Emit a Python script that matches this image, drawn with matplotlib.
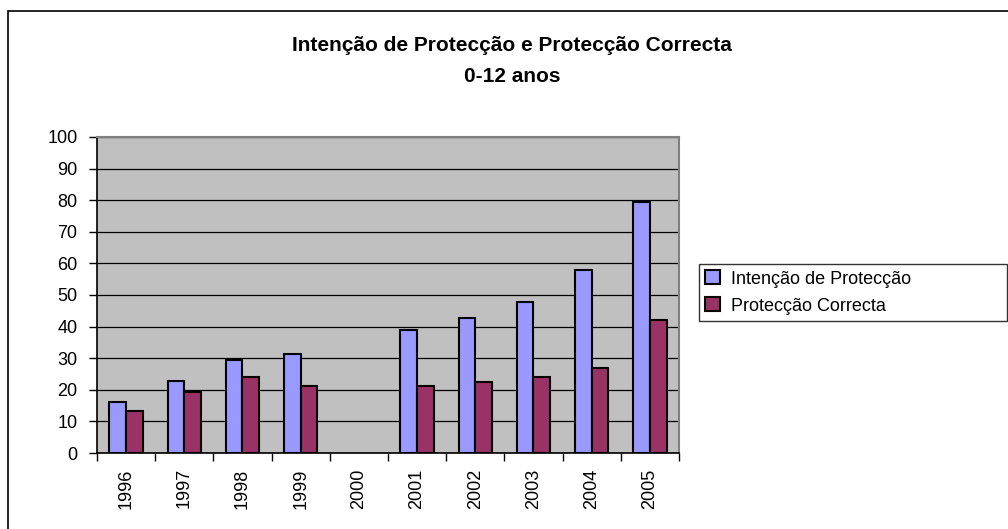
import numpy as np
import matplotlib
matplotlib.use("Agg")
import matplotlib.pyplot as plt
from matplotlib import patches

plt.rcParams['font.family'] = ['Liberation Sans', 'DejaVu Sans']

years = ['1996', '1997', '1998', '1999', '2000', '2001', '2002', '2003', '2004', '2005']
intencao = [16, 22.8, 29.4, 31.3, np.nan, 38.8, 42.6, 47.9, 57.8, 79.5]
correcta = [13.4, 19.4, 24.2, 21.1, np.nan, 21.1, 22.4, 24.2, 27.0, 42.2]
labels = ['Intenção de Protecção', 'Protecção Correcta']

W, H = 1008, 529
fig = plt.figure(figsize=(W / 100, H / 100), dpi=100)
fig.patch.set_facecolor('white')

# outer chart border (right/bottom edges run off the picture)
fig.add_artist(patches.Rectangle((8 / W, -0.05), 1.1, 1 - 11 / H + 0.05,
                                 transform=fig.transFigure, fill=False,
                                 edgecolor='black', linewidth=1.2, clip_on=False))

ax = fig.add_axes([97 / W, 1 - 453 / H, (679 - 97) / W, (453 - 137) / H])
ax.set_facecolor('#C0C0C0')

x = np.arange(len(years))
w = 0.2857
ax.bar(x - w / 2, intencao, w, color='#9999FF', edgecolor='black', linewidth=1.5,
       label=labels[0], zorder=3)
ax.bar(x + w / 2, correcta, w, color='#993366', edgecolor='black', linewidth=1.5,
       label=labels[1], zorder=3)

ax.set_xlim(-0.5, len(years) - 0.5)
ax.set_ylim(0, 100)
ax.set_yticks(np.arange(0, 101, 10))
ax.yaxis.grid(True, color='black', linewidth=0.9, zorder=1)
ax.set_axisbelow(True)

ax.set_xticks(x)
ax.set_xticklabels(years, rotation=90, fontsize=13)
ax.tick_params(axis='x', length=0, pad=11)
ax.set_xticks(np.arange(-0.5, len(years), 1), minor=True)
ax.tick_params(axis='x', which='minor', length=6, width=1, direction='out')
ax.tick_params(axis='y', length=6, width=1, direction='out', labelsize=13, pad=8)

for s in ['top', 'right']:
    ax.spines[s].set_color('#808080')
    ax.spines[s].set_linewidth(1.5)
for s in ['left', 'bottom']:
    ax.spines[s].set_color('black')
    ax.spines[s].set_linewidth(1.2)

fig.text(512 / W, 1 - 46 / H, 'Intenção de Protecção e Protecção Correcta',
         ha='center', va='center', fontsize=15, fontweight='bold')
fig.text(512 / W, 1 - 76 / H, '0-12 anos', ha='center', va='center',
         fontsize=15, fontweight='bold')

leg = ax.legend(loc='upper left',
                bbox_to_anchor=(699 / W, 1 - 325 / H, (1007 - 699) / W, (325 - 264) / H),
                bbox_transform=fig.transFigure, mode='expand', fontsize=13,
                frameon=True, fancybox=False, edgecolor='black', handlelength=0.8,
                handleheight=0.8, handletextpad=0.6, borderpad=0.35,
                labelspacing=0.55, borderaxespad=0)
leg.get_frame().set_linewidth(1.0)

fig.savefig('out.png', dpi=100)
